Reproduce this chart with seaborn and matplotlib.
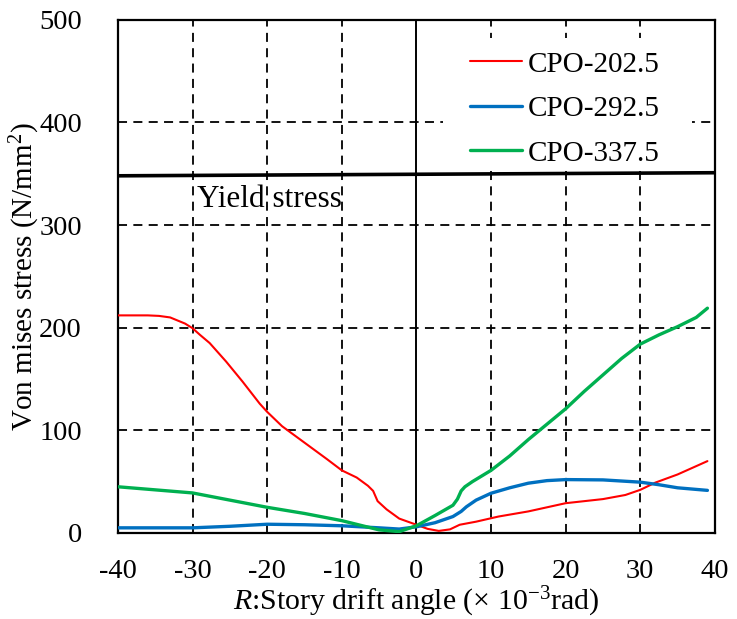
import numpy as np
import pandas as pd
import matplotlib
matplotlib.use("Agg")
import matplotlib.pyplot as plt
from matplotlib.patches import Rectangle
import seaborn as sns

# Drift angle (x10^-3 rad) and Von Mises stress (N/mm^2) per specimen
x_202 = [-40, -36, -34.5, -33, -32, -31, -30, -29, -27.7, -25.5, -23.3, -21, -20, -18, -15,
         -12, -10, -8, -6.5, -5.8, -5.2, -4, -2.3, 0, 1.5, 3, 4.5, 5.8, 8, 11, 15, 20,
         25, 28, 30, 32, 35, 39]
s_202 = [212, 212, 211.5, 210, 207, 204, 199.5, 193, 185, 167, 147.5, 126, 118, 104, 88,
         72, 61, 54, 46, 41, 31, 23, 14, 8, 4, 2, 3.5, 8, 11, 16, 21, 29,
         33, 37, 42, 49, 57, 70]

x_292 = [-40, -35, -30, -25, -20, -15, -10, -5, -2.3, 0, 2.5, 4.9, 6, 6.7, 8, 10, 12.5,
         15, 17.5, 20, 25, 30, 32.5, 35, 39]
s_292 = [5, 5, 5, 6.5, 8.5, 8, 7, 5, 3.8, 6, 10, 16, 21, 25.5, 32, 38.7, 44,
         48.5, 51, 52, 51.7, 49.5, 47, 44, 41.5]

x_337 = [-40, -35, -30, -25, -20, -15, -10, -5, -2.3, 0, 2.5, 4.9, 5.5, 6.0, 6.5, 7.5,
         10, 12.5, 15, 17.5, 20, 22.5, 25, 27.5, 30, 32.5, 35, 37.5, 39]
s_337 = [45, 42, 39, 32, 25, 19, 12, 3, 1.3, 7, 17, 27, 33, 41, 45, 50,
         61, 75, 91, 106, 121, 138, 154, 170, 184, 193, 201, 210, 219]

labels = ["CPO-202.5", "CPO-292.5", "CPO-337.5"]
colors = ["#ff0000", "#0070c0", "#00b050"]
widths = [1.5, 2.4, 2.4]

yield_x = [-40, 40]
yield_s = [348, 351]

x_ticks = [-40, -30, -20, -10, 0, 10, 20, 30, 40]
y_ticks = [0, 100, 200, 300, 400, 500]

df = pd.concat([
    pd.DataFrame({"R": x_202, "stress": s_202, "spec": labels[0]}),
    pd.DataFrame({"R": x_292, "stress": s_292, "spec": labels[1]}),
    pd.DataFrame({"R": x_337, "stress": s_337, "spec": labels[2]}),
], ignore_index=True)

sns.set_style("white")
plt.rcParams["font.family"] = ["Liberation Serif", "DejaVu Serif"]
plt.rcParams["mathtext.fontset"] = "custom"
plt.rcParams["mathtext.rm"] = "Liberation Serif"
plt.rcParams["mathtext.it"] = "Liberation Serif:italic"
plt.rcParams["axes.unicode_minus"] = False
for key in ["text.color", "axes.labelcolor", "xtick.color", "ytick.color"]:
    plt.rcParams[key] = "black"

fig = plt.figure(figsize=(7.37, 6.19), dpi=100)
ax = fig.add_axes([0.160, 0.139, 0.810, 0.829])

# dashed grid, solid line at zero drift
for xv in x_ticks[1:-1]:
    if xv == 0:
        ax.axvline(xv, color="black", lw=1.4, zorder=1)
    else:
        ax.axvline(xv, color="black", lw=1.3, ls=(0, (5, 3.5)), zorder=1)
for yv in y_ticks[1:-1]:
    ax.axhline(yv, color="black", lw=1.3, ls=(0, (5, 3.5)), zorder=1)

# white panel behind the legend entries
ax.add_patch(Rectangle((0.544, 0.708), 0.4175, 0.257, transform=ax.transAxes,
                       facecolor="white", edgecolor="none", zorder=1.5))

for lab, c, w in zip(labels, colors, widths):
    sns.lineplot(data=df[df["spec"] == lab], x="R", y="stress", color=c, lw=w,
                 label=lab, ax=ax, sort=False, estimator=None, zorder=3)

sns.lineplot(x=yield_x, y=yield_s, color="black", lw=2.6, ax=ax, zorder=2)
ax.text(-29.4, 325, "Yield stress", fontsize=22.5, va="center", ha="left", zorder=4)

ax.set_xlim(-40, 40)
ax.set_ylim(0, 500)
ax.set_xticks(x_ticks)
ax.set_yticks(y_ticks)
ax.tick_params(axis="both", length=0, labelsize=20.5)
ax.tick_params(axis="x", pad=19)
ax.tick_params(axis="y", pad=26)

for sp in ax.spines.values():
    sp.set_color("black")
    sp.set_linewidth(1.6)
    sp.set_visible(True)

ax.set_xlabel(r"$R$:Story drift angle (× 10$^{\mathrm{-3}}$rad)", fontsize=21.5, labelpad=0)
ax.set_ylabel(r"Von mises stress (N/mm$^{\mathrm{2}}$)", fontsize=21, labelpad=-2)

leg = ax.legend(loc="upper left", bbox_to_anchor=(0.5896, 0.939), fontsize=21,
                frameon=False, handlelength=1.8, handletextpad=0.2,
                labelspacing=0.62, borderpad=0, borderaxespad=0)
leg.set_zorder(5)

fig.savefig("out.png", dpi=100)
